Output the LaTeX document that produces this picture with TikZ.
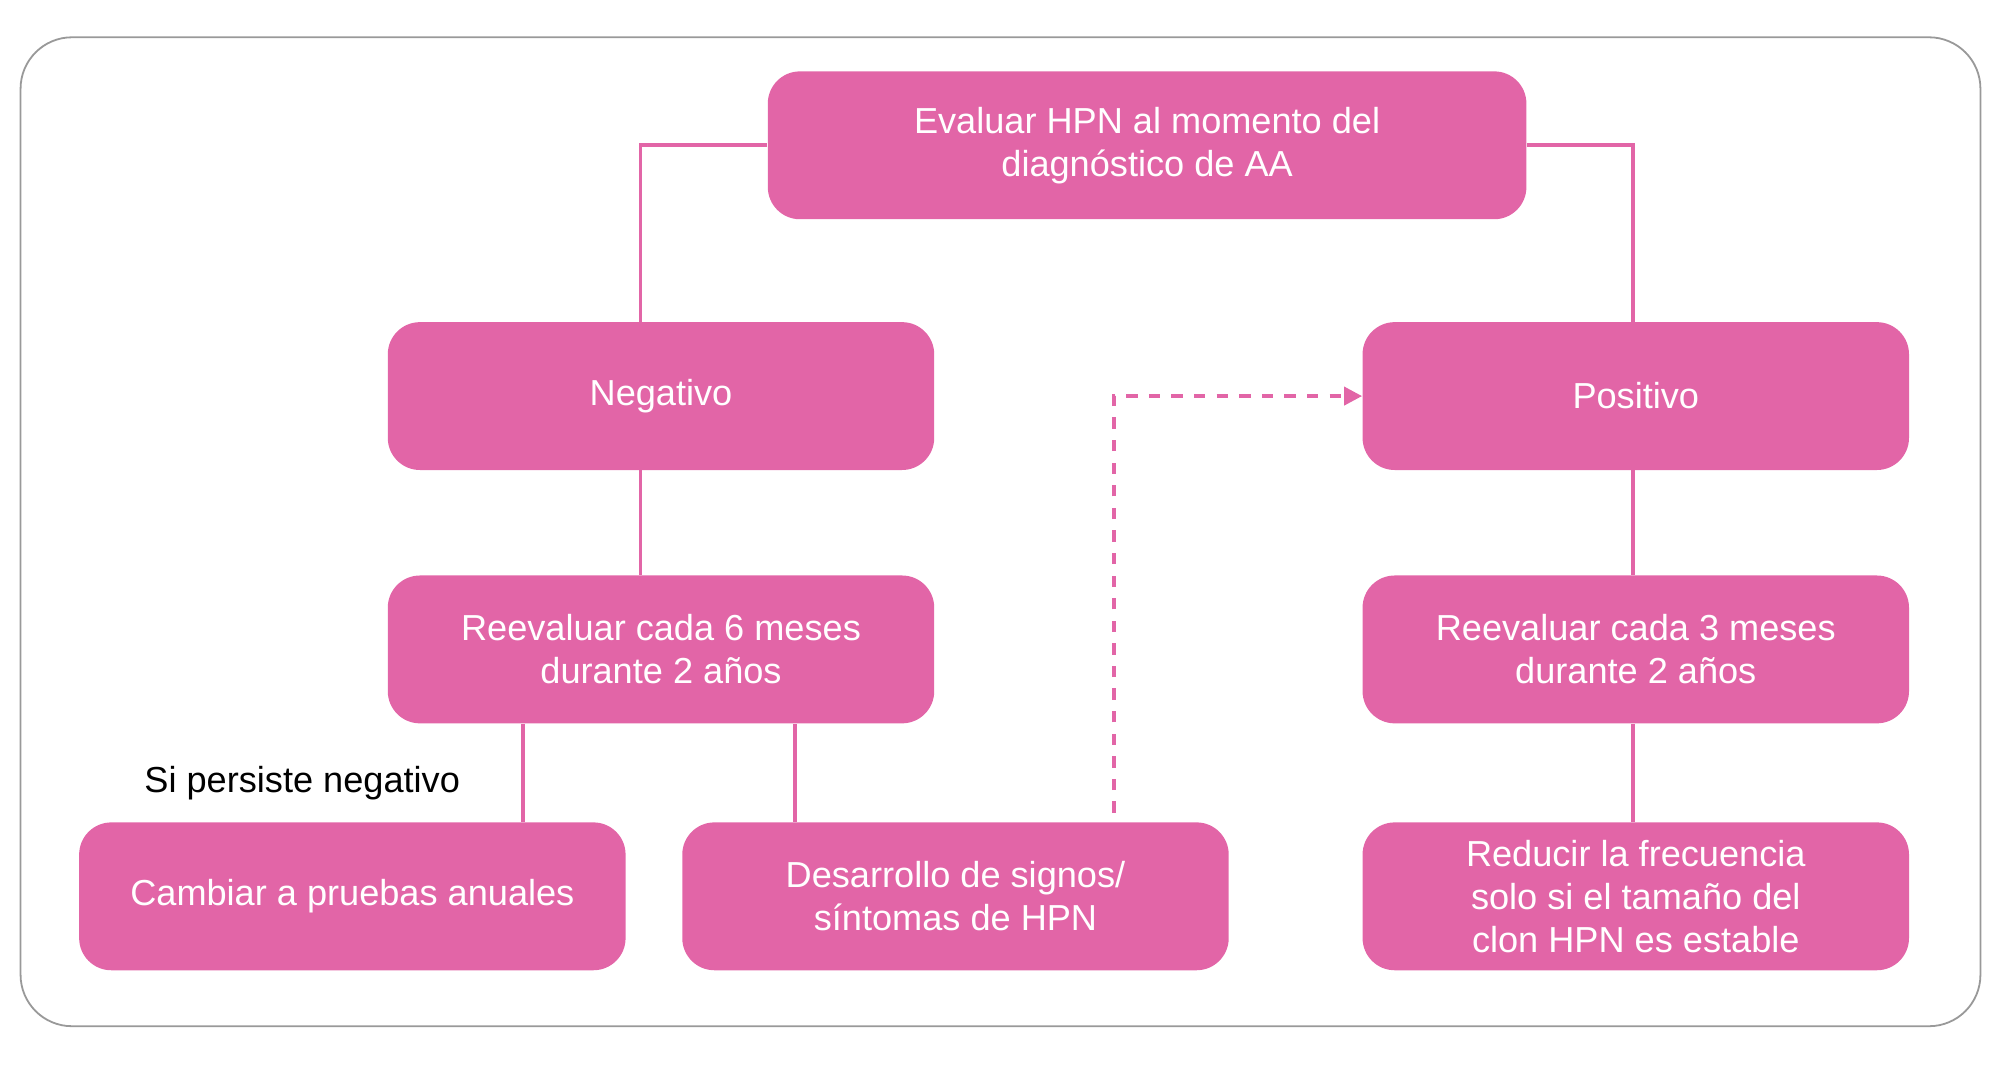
\documentclass[tikz,border=0pt]{standalone}
\usepackage{fontspec}
\setmainfont{Liberation Sans}
\usetikzlibrary{positioning, arrows.meta}
\definecolor{hpnpink}{HTML}{E265A7}

\begin{document}
\begin{tikzpicture}[
        x=0.02cm, y=-0.02cm,
        box/.style={
            fill=hpnpink, rounded corners=0.5cm, align=center,
            text=white, font=\fontsize{16}{19}\selectfont,
            minimum width=8.5cm, minimum height=2.3cm, inner sep=2pt
        },
        link/.style={draw=hpnpink, line width=1.7pt},
        dashlink/.style={link, dash pattern=on 5pt off 5pt, -{Triangle[length=8pt,width=8pt]}}
      ]
        \useasboundingbox (0,0) rectangle (1556,830);
        % frame
        \draw[gray!80, line width=0.8pt, rounded corners=0.8cm] (16,29) rectangle (1540,798);
        \node[box, minimum width=11.8cm] (eval) at (892,113) {Evaluar HPN al momento del \\ diagnóstico de AA};
        \node[box] (neg) at (514,308) {Negativo};
        \node[box] (pos) at (1272,308) {Positivo};
        \node[box] (re6) at (514,505) {Reevaluar cada 6 meses \\ durante 2 años};
        \node[box] (re3) at (1272,505) {Reevaluar cada 3 meses \\ durante 2 años};
        \node[box] (camb) at (274,697) {Cambiar a pruebas anuales};
        \node[box] (desa) at (743,697) {Desarrollo de signos/ \\ síntomas de HPN};
        \node[box] (red) at (1272,697) {Reducir la frecuencia \\ solo si el tamaño del \\ clon HPN es estable};
        \node[font=\fontsize{16}{19}\selectfont] (pers) at (235,609) {Si persiste negativo};
        \coordinate (dstart) at (866,632);
        % connectors
        \draw[link] (eval.west) -| (neg.north -| 498,0);
        \draw[link] (eval.east) -| (pos.north -| 1270,0);
        \draw[link] (neg.south -| 498,0) -- (re6.north -| 498,0);
        \draw[link] (pos.south -| 1270,0) -- (re3.north -| 1270,0);
        \draw[link] (re3.south -| 1270,0) -- (red.north -| 1270,0);
        \draw[link] (re6.south -| 407,0) -- (camb.north -| 407,0);
        \draw[link] (re6.south -| 618,0) -- (desa.north -| 618,0);
        \draw[dashlink] (dstart) |- (pos.west);
\end{tikzpicture}
\end{document}
